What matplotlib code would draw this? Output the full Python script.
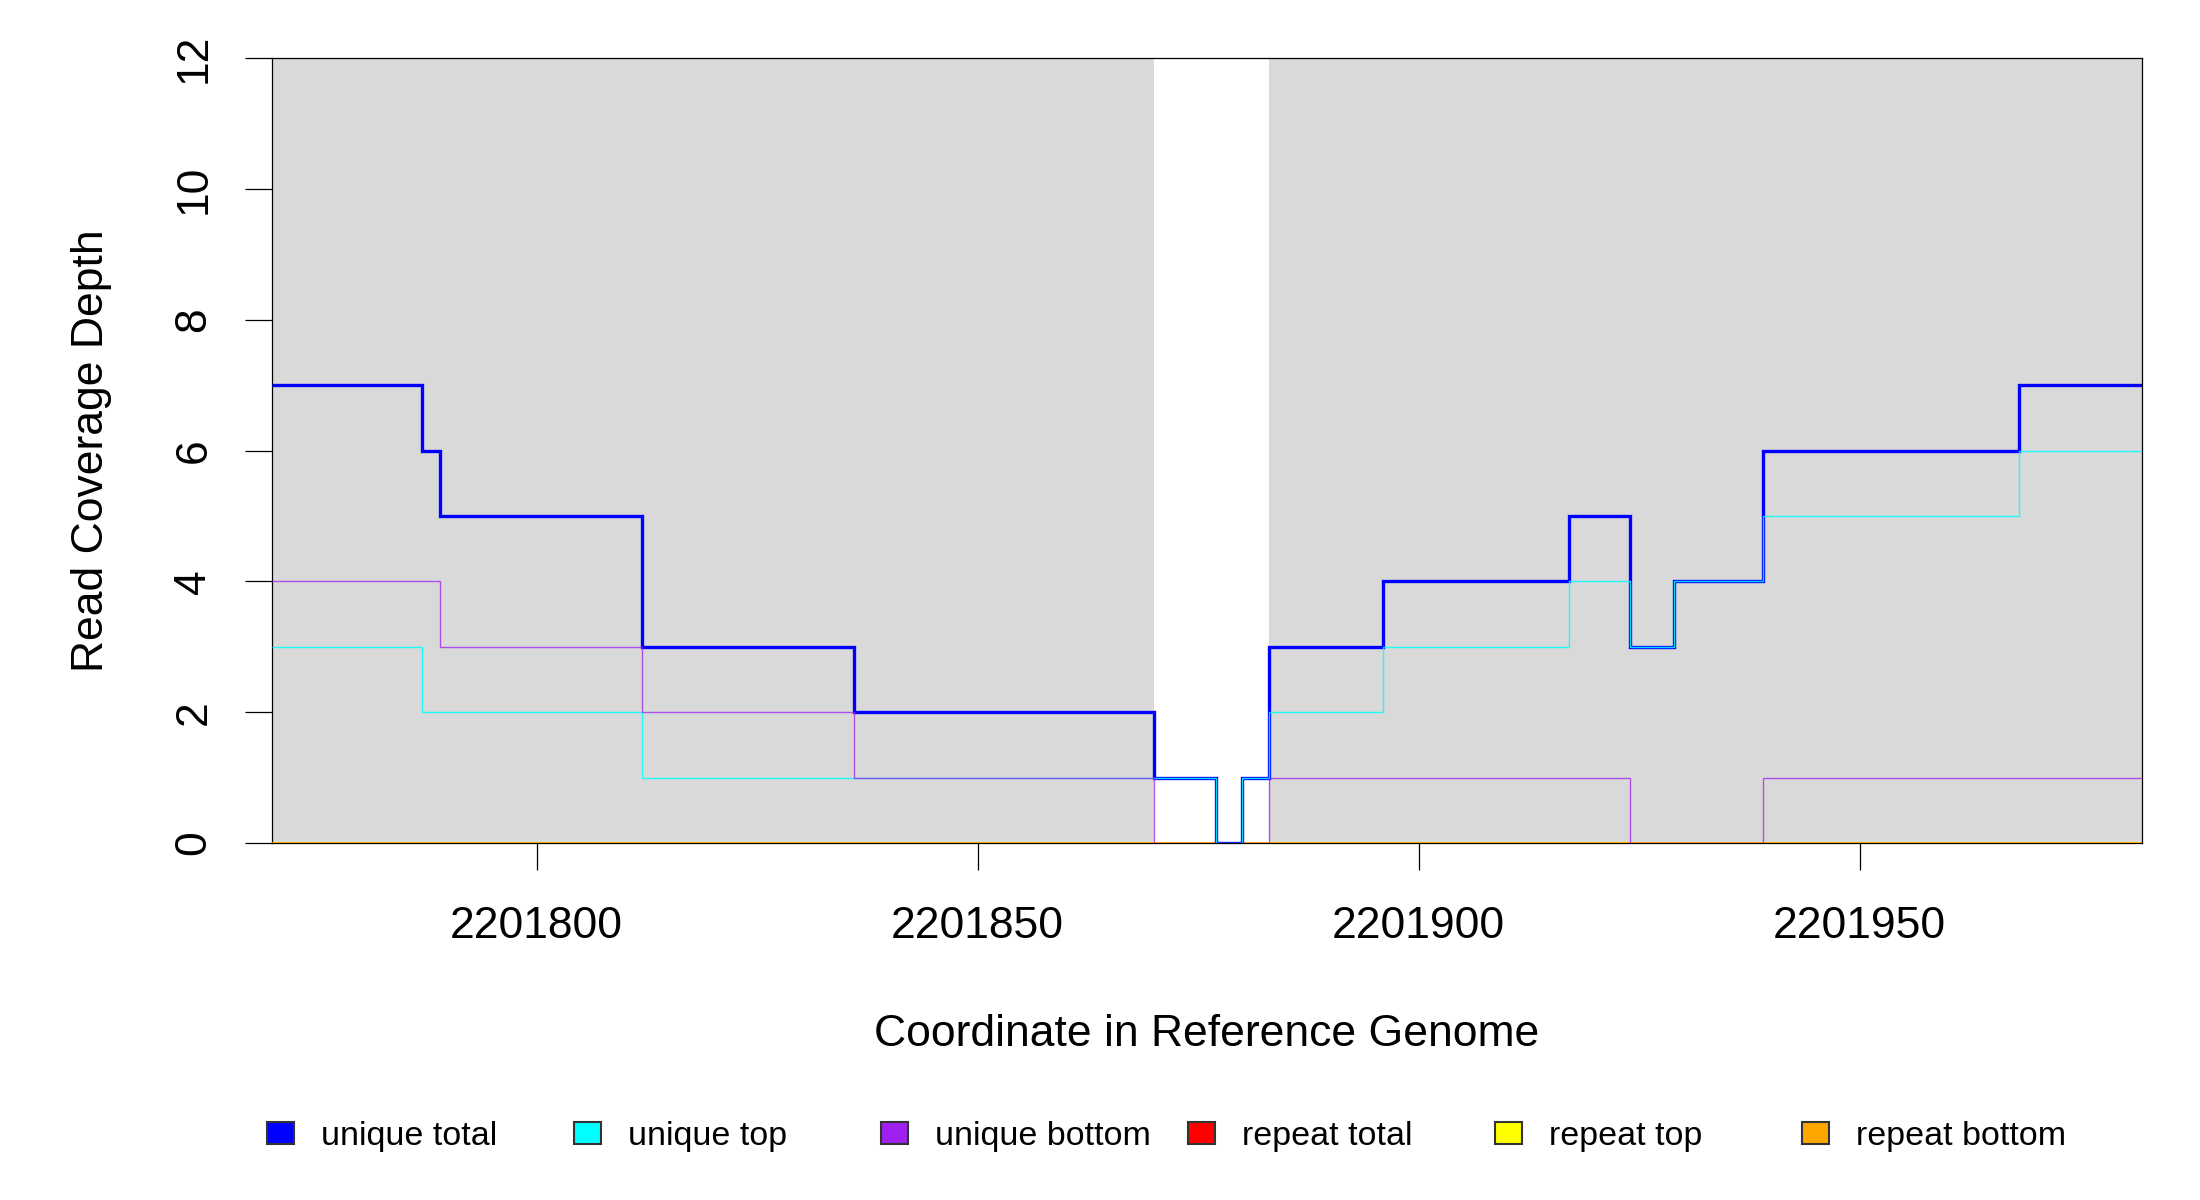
import matplotlib
matplotlib.use("Agg")
import matplotlib.pyplot as plt
from matplotlib.patches import Rectangle

plt.rcParams['font.family'] = ['Liberation Sans', 'DejaVu Sans']

# 覆盖深度数据（阶梯边界 + 每段取值）
edges = [2201770, 2201787, 2201789, 2201812, 2201836, 2201870, 2201877, 2201880,
         2201883, 2201896, 2201917, 2201924, 2201929, 2201939, 2201968, 2201982]
unique_total = [7, 6, 5, 3, 2, 1, 0, 1, 3, 4, 5, 3, 4, 6, 7]
unique_top = [3, 2, 2, 1, 1, 1, 0, 1, 2, 3, 4, 3, 4, 5, 6]
unique_bottom = [4, 4, 3, 2, 1, 0, 0, 0, 1, 1, 1, 0, 0, 1, 1]
repeat_total = [0] * 15
repeat_top = [0] * 15
repeat_bottom = [0] * 15

# 灰色背景区段
shaded = [(2201770, 2201870), (2201883, 2201982)]

x_ticks = [2201800, 2201850, 2201900, 2201950]
y_ticks = [0, 2, 4, 6, 8, 10, 12]

legend_labels = ["unique total", "unique top", "unique bottom",
                 "repeat total", "repeat top", "repeat bottom"]
legend_colors = ["#0000FF", "#00FFFF", "#A020F0", "#FF0000", "#FFFF00", "#FFA500"]

fig = plt.figure(figsize=(22, 12), dpi=100)
ax = fig.add_axes([272 / 2200, 1 - 843 / 1200, (2142 - 272) / 2200, (843 - 58) / 1200])

for a, b in shaded:
    ax.axvspan(a, b, color="#D9D9D9", lw=0, zorder=0)

# 先画 repeat，再画 unique（repeat 线压在坐标框之上）
ax.stairs(repeat_total, edges, baseline=None, color="#FF0000", lw=2.0, zorder=2.7)
ax.stairs(repeat_top, edges, baseline=None, color="#FFFF00", lw=2.0, zorder=2.7)
ax.stairs(repeat_bottom, edges, baseline=None, color="#FFA500", lw=2.0, zorder=2.7)
ax.stairs(unique_total, edges, baseline=None, color="#0000FF", lw=2.4, zorder=3)
ax.stairs(unique_top, edges, baseline=None, color="#00FFFF", lw=1.0, alpha=0.85, zorder=4)
ax.stairs(unique_bottom, edges, baseline=None, color="#A020F0", lw=1.0, alpha=0.75, zorder=4)

ax.set_xlim(edges[0], edges[-1])
ax.set_ylim(0, 12)
ax.set_xticks(x_ticks)
ax.set_xticklabels([str(t) for t in x_ticks])
ax.set_yticks(y_ticks)
ax.tick_params(axis="both", direction="out", length=19.5, width=0.9,
               labelsize=32, color="black")
ax.tick_params(axis="x", pad=26)
ax.tick_params(axis="y", pad=22)
for lbl in ax.get_yticklabels():
    lbl.set_rotation(90)
    lbl.set_va("center")

for sp in ax.spines.values():
    sp.set_linewidth(0.9)
    sp.set_color("black")

ax.set_xlabel("Coordinate in Reference Genome", fontsize=32)
ax.xaxis.label.set_va("center")
ax.xaxis.set_label_coords(0.5, (843 - 1034) / 785)
ax.set_ylabel("Read Coverage Depth", fontsize=32)
ax.yaxis.label.set_va("center")
ax.yaxis.set_label_coords((92 - 272) / 1870, 0.5)

# 图例：等间距排列
for i, (lab, col) in enumerate(zip(legend_labels, legend_colors)):
    x0 = 267 + i * 307
    fig.patches.append(Rectangle((x0 / 2200, 1 - 1144 / 1200), 27 / 2200, 22 / 1200,
                                 transform=fig.transFigure, facecolor=col,
                                 edgecolor="#333333", lw=1.5))
    fig.text((x0 + 54) / 2200, 1 - 1136 / 1200, lab, fontsize=24.5,
             ha="left", va="center")

fig.savefig("out.png", dpi=100, facecolor="white")
